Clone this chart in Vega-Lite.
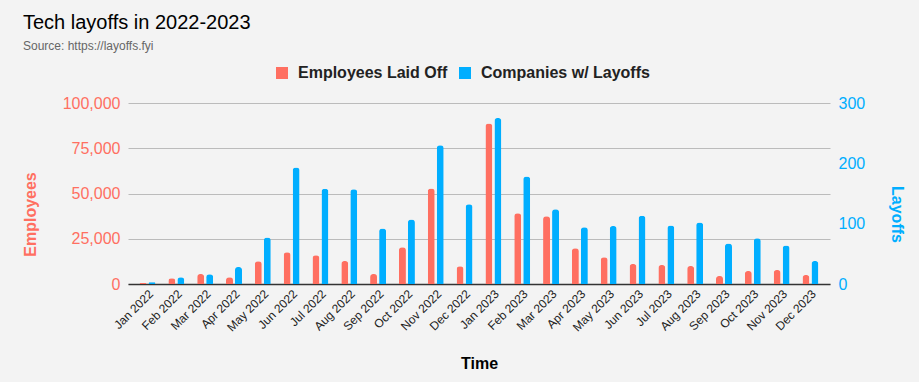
{
  "$schema": "https://vega.github.io/schema/vega-lite/v6.json",
  "width": 702,
  "height": 181,
  "autosize": {"type": "none"},
  "padding": {"left": 128, "top": 103, "right": 89, "bottom": 98},
  "background": "#f3f3f3",
  "config": {
    "font": "Liberation Sans",
    "view": {"stroke": null}
  },
  "title": {
    "text": "Tech layoffs in 2022-2023",
    "subtitle": "Source: https://layoffs.fyi",
    "anchor": "start",
    "frame": "group",
    "dx": -105,
    "offset": 13,
    "font": "Liberation Sans",
    "fontSize": 20,
    "fontWeight": "normal",
    "color": "#000000",
    "subtitleFont": "Liberation Sans",
    "subtitleFontSize": 12,
    "subtitleColor": "#666666",
    "subtitlePadding": 8
  },
  "data": {
    "values": [
      {"month": "Jan 2022", "series": "Employees Laid Off", "value": 510},
      {"month": "Feb 2022", "series": "Employees Laid Off", "value": 3150},
      {"month": "Mar 2022", "series": "Employees Laid Off", "value": 5520},
      {"month": "Apr 2022", "series": "Employees Laid Off", "value": 3700},
      {"month": "May 2022", "series": "Employees Laid Off", "value": 12530},
      {"month": "Jun 2022", "series": "Employees Laid Off", "value": 17500},
      {"month": "Jul 2022", "series": "Employees Laid Off", "value": 15850},
      {"month": "Aug 2022", "series": "Employees Laid Off", "value": 12700},
      {"month": "Sep 2022", "series": "Employees Laid Off", "value": 5520},
      {"month": "Oct 2022", "series": "Employees Laid Off", "value": 20260},
      {"month": "Nov 2022", "series": "Employees Laid Off", "value": 52830},
      {"month": "Dec 2022", "series": "Employees Laid Off", "value": 9770},
      {"month": "Jan 2023", "series": "Employees Laid Off", "value": 88700},
      {"month": "Feb 2023", "series": "Employees Laid Off", "value": 39030},
      {"month": "Mar 2023", "series": "Employees Laid Off", "value": 37370},
      {"month": "Apr 2023", "series": "Employees Laid Off", "value": 19700},
      {"month": "May 2023", "series": "Employees Laid Off", "value": 14740},
      {"month": "Jun 2023", "series": "Employees Laid Off", "value": 11050},
      {"month": "Jul 2023", "series": "Employees Laid Off", "value": 10490},
      {"month": "Aug 2023", "series": "Employees Laid Off", "value": 9940},
      {"month": "Sep 2023", "series": "Employees Laid Off", "value": 4420},
      {"month": "Oct 2023", "series": "Employees Laid Off", "value": 7180},
      {"month": "Nov 2023", "series": "Employees Laid Off", "value": 7730},
      {"month": "Dec 2023", "series": "Employees Laid Off", "value": 4970},
      {"month": "Jan 2022", "series": "Companies w/ Layoffs", "value": 3},
      {"month": "Feb 2022", "series": "Companies w/ Layoffs", "value": 11},
      {"month": "Mar 2022", "series": "Companies w/ Layoffs", "value": 16},
      {"month": "Apr 2022", "series": "Companies w/ Layoffs", "value": 28},
      {"month": "May 2022", "series": "Companies w/ Layoffs", "value": 77},
      {"month": "Jun 2022", "series": "Companies w/ Layoffs", "value": 193},
      {"month": "Jul 2022", "series": "Companies w/ Layoffs", "value": 158},
      {"month": "Aug 2022", "series": "Companies w/ Layoffs", "value": 157},
      {"month": "Sep 2022", "series": "Companies w/ Layoffs", "value": 92},
      {"month": "Oct 2022", "series": "Companies w/ Layoffs", "value": 107},
      {"month": "Nov 2022", "series": "Companies w/ Layoffs", "value": 230},
      {"month": "Dec 2022", "series": "Companies w/ Layoffs", "value": 132},
      {"month": "Jan 2023", "series": "Companies w/ Layoffs", "value": 275},
      {"month": "Feb 2023", "series": "Companies w/ Layoffs", "value": 178},
      {"month": "Mar 2023", "series": "Companies w/ Layoffs", "value": 124},
      {"month": "Apr 2023", "series": "Companies w/ Layoffs", "value": 94},
      {"month": "May 2023", "series": "Companies w/ Layoffs", "value": 96},
      {"month": "Jun 2023", "series": "Companies w/ Layoffs", "value": 113},
      {"month": "Jul 2023", "series": "Companies w/ Layoffs", "value": 97},
      {"month": "Aug 2023", "series": "Companies w/ Layoffs", "value": 102},
      {"month": "Sep 2023", "series": "Companies w/ Layoffs", "value": 67},
      {"month": "Oct 2023", "series": "Companies w/ Layoffs", "value": 76},
      {"month": "Nov 2023", "series": "Companies w/ Layoffs", "value": 64},
      {"month": "Dec 2023", "series": "Companies w/ Layoffs", "value": 38}
    ]
  },
  "encoding": {
    "x": {
      "field": "month",
      "type": "ordinal",
      "sort": null,
      "scale": {"paddingInner": 0.445, "paddingOuter": 0.4},
      "axis": {
        "title": "Time",
        "titleFontSize": 16,
        "titleFontWeight": "bold",
        "titleColor": "#000000",
        "titlePadding": 22,
        "labelAngle": -45,
        "labelFontSize": 12,
        "labelColor": "#222222",
        "labelPadding": 4,
        "ticks": false,
        "tickSize": 0,
        "domainColor": "#333333",
        "domainWidth": 1.5,
        "grid": false
      }
    },
    "xOffset": {
      "field": "series",
      "type": "nominal",
      "scale": {"domain": ["Employees Laid Off", "Companies w/ Layoffs"], "paddingInner": 0.222, "paddingOuter": 0}
    },
    "color": {
      "field": "series",
      "type": "nominal",
      "scale": {"domain": ["Employees Laid Off", "Companies w/ Layoffs"], "range": ["#ff6f61", "#00aeff"]},
      "legend": {
        "orient": "none",
        "direction": "horizontal",
        "legendX": 146,
        "legendY": -38,
        "title": null,
        "labelFontSize": 16,
        "labelFontWeight": "bold",
        "labelColor": "#222222",
        "labelLimit": 400,
        "symbolType": "square",
        "symbolSize": 144,
        "symbolOpacity": 1,
        "symbolStrokeWidth": 0,
        "columnPadding": 9,
        "labelOffset": 8
      }
    }
  },
  "layer": [
    {
      "transform": [{"filter": "datum.series === 'Employees Laid Off'"}],
      "mark": {"type": "bar", "cornerRadiusTopLeft": 3, "cornerRadiusTopRight": 3},
      "encoding": {
        "y": {
          "field": "value",
          "type": "quantitative",
          "scale": {"domain": [0, 100000], "nice": false},
          "axis": {
            "orient": "left",
            "title": "Employees",
            "titleColor": "#ff6f61",
            "titleFontSize": 16,
            "titleFontWeight": "bold",
            "titlePadding": 24,
            "titleY": 111,
            "labelColor": "#ff6f61",
            "labelFontSize": 16,
            "labelPadding": 8,
            "values": [0, 25000, 50000, 75000, 100000],
            "format": ",.0f",
            "ticks": false,
            "tickSize": 0,
            "domain": false,
            "grid": true,
            "gridColor": "#bbbbbb",
            "gridWidth": 1
          }
        }
      }
    },
    {
      "transform": [{"filter": "datum.series === 'Companies w/ Layoffs'"}],
      "mark": {"type": "bar", "cornerRadiusTopLeft": 3, "cornerRadiusTopRight": 3},
      "encoding": {
        "y": {
          "field": "value",
          "type": "quantitative",
          "scale": {"domain": [0, 300], "nice": false},
          "axis": {
            "orient": "right",
            "title": "Layoffs",
            "titleColor": "#00aeff",
            "titleFontSize": 16,
            "titleFontWeight": "bold",
            "titlePadding": 24,
            "titleY": 111,
            "labelColor": "#00aeff",
            "labelFontSize": 16,
            "labelPadding": 8,
            "values": [0, 100, 200, 300],
            "ticks": false,
            "tickSize": 0,
            "domain": false,
            "grid": false
          }
        }
      }
    }
  ],
  "resolve": {"scale": {"y": "independent"}}
}
